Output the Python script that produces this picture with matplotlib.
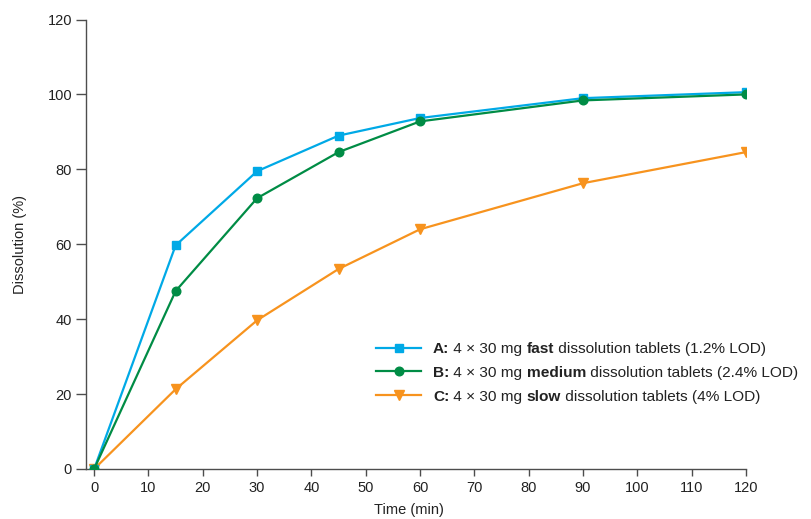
import matplotlib
matplotlib.use("Agg")
import matplotlib.pyplot as plt

plt.rcParams["font.family"] = ["Liberation Sans", "DejaVu Sans"]

time_min = [0, 15, 30, 45, 60, 90, 120]
fast = [0, 59.7, 79.5, 89.0, 93.7, 99.0, 100.6]
medium = [0, 47.5, 72.3, 84.6, 92.8, 98.4, 100.0]
slow = [0, 21.3, 39.7, 53.4, 64.0, 76.3, 84.6]

# legend entries as (text, bold) runs
legend_runs = [
    [("A:", True), (" 4 × 30 mg ", False), ("fast", True),
     (" dissolution tablets (1.2% LOD)", False)],
    [("B:", True), (" 4 × 30 mg ", False), ("medium", True),
     (" dissolution tablets (2.4% LOD)", False)],
    [("C:", True), (" 4 × 30 mg ", False), ("slow", True),
     (" dissolution tablets (4% LOD)", False)],
]

blue = "#00A9E6"
green = "#008C45"
orange = "#F7931E"
axis_col = "#4d4d4d"
text_col = "#222222"
fs = 11.1

fig = plt.figure(figsize=(8.11, 5.19), dpi=100)
ax = fig.add_axes([86 / 811, 50 / 519, 660 / 811, 449.5 / 519])

lc, = ax.plot(time_min, slow, color=orange, lw=1.6, marker="v", ms=7.5, zorder=2)
la, = ax.plot(time_min, fast, color=blue, lw=1.6, marker="s", ms=6, zorder=3)
lb, = ax.plot(time_min, medium, color=green, lw=1.6, marker="o", ms=6.2, zorder=4)

ax.set_xlim(-1.5, 120)
ax.set_ylim(0, 120)
ax.set_xticks(range(0, 121, 10))
ax.set_yticks(range(0, 121, 20))

for side in ("top", "right"):
    ax.spines[side].set_visible(False)
for side in ("left", "bottom"):
    ax.spines[side].set_color(axis_col)
    ax.spines[side].set_linewidth(1.0)
ax.tick_params(axis="y", direction="out", length=7, width=1.0, color=axis_col,
               labelsize=10.5, labelcolor=text_col, pad=3)
ax.tick_params(axis="x", direction="out", length=5, width=1.0, color=axis_col,
               labelsize=10.5, labelcolor=text_col, pad=4)

ax.set_xlabel("Time (min)", fontsize=10.5, color=text_col, labelpad=6)
ax.xaxis.set_label_coords(0.49, -0.075)
ax.set_ylabel("Dissolution (%)", fontsize=10.5, color=text_col, labelpad=15)

leg = ax.legend([la, lb, lc], [runs[0][0] for runs in legend_runs],
                loc="upper left", bbox_to_anchor=(0.43, 0.296), frameon=False,
                fontsize=fs, handlelength=2.95, handletextpad=0.75,
                labelspacing=0.63, borderaxespad=0)
leg.set_zorder(5)

# continue each legend label with mixed-weight text runs (drawn after the legend)
for txt, runs in zip(leg.get_texts(), legend_runs):
    txt.set_color(text_col)
    txt.set_fontweight("bold")
    prev = txt
    for s, bold in runs[1:]:
        prev = ax.annotate(s, xy=(1, 0), xycoords=prev, va="bottom", ha="left",
                           fontsize=fs, color=text_col,
                           fontweight="bold" if bold else "normal",
                           annotation_clip=False, zorder=6)

fig.savefig("out.png", dpi=100)
